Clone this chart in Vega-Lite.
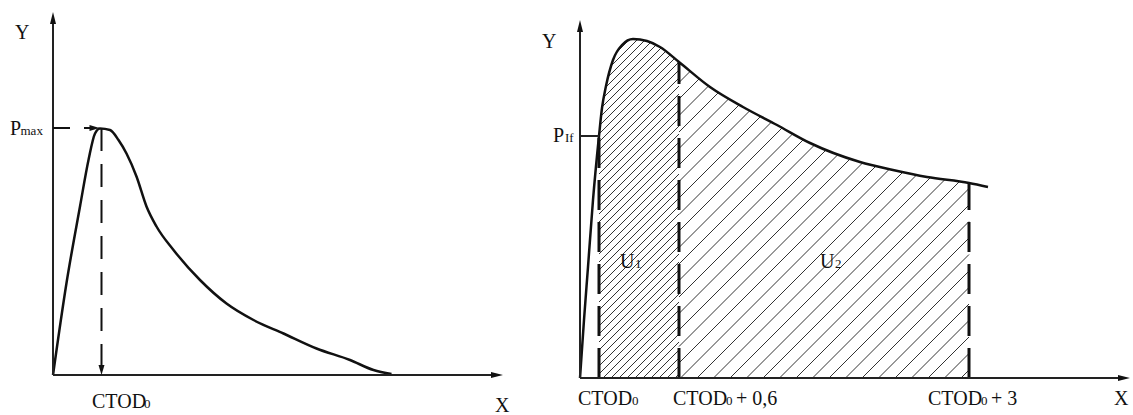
{
  "$schema": "https://vega.github.io/schema/vega-lite/v6.json",
  "autosize": {"type": "pad"},
  "padding": 0,
  "background": "white",
  "spacing": 0,
  "bounds": "flush",
  "config": {"view": {"stroke": null}},
  "datasets": {
    "curveL": [
      {"x":0,"y":0},{"x":0.27,"y":1.84},{"x":0.54,"y":3.37},{"x":0.71,"y":4.30},{"x":0.84,"y":4.83},
      {"x":0.94,"y":4.93},{"x":1.14,"y":4.90},{"x":1.31,"y":4.70},{"x":1.47,"y":4.43},{"x":1.67,"y":3.97},
      {"x":1.87,"y":3.37},{"x":2.07,"y":2.97},{"x":2.41,"y":2.50},{"x":2.94,"y":1.90},{"x":3.47,"y":1.43},
      {"x":4.01,"y":1.10},{"x":4.61,"y":0.83},{"x":5.27,"y":0.53},{"x":5.94,"y":0.30},{"x":6.41,"y":0.10},
      {"x":6.77,"y":0.02}
    ],
    "curveR": [
      {"x":0,"y":0},{"x":0.08,"y":1.16},{"x":0.16,"y":2.22},{"x":0.26,"y":3.56},{"x":0.38,"y":4.84},
      {"x":0.44,"y":5.40},{"x":0.52,"y":5.84},{"x":0.66,"y":6.36},{"x":0.84,"y":6.66},{"x":1.06,"y":6.78},
      {"x":1.34,"y":6.74},{"x":1.60,"y":6.62},{"x":1.98,"y":6.32},{"x":2.60,"y":5.82},{"x":3.26,"y":5.42},
      {"x":3.94,"y":5.06},{"x":4.60,"y":4.70},{"x":5.60,"y":4.32},{"x":6.26,"y":4.16},{"x":6.94,"y":4.02},
      {"x":7.78,"y":3.90},{"x":8.16,"y":3.82}
    ],
    "hatch": [
      {"x":1.90,"y":0,"x2":1.98,"y2":0.08},{"x":1.74,"y":0,"x2":1.98,"y2":0.24},{"x":1.58,"y":0,"x2":1.98,"y2":0.40},
      {"x":1.42,"y":0,"x2":1.98,"y2":0.56},{"x":1.26,"y":0,"x2":1.98,"y2":0.72},{"x":1.10,"y":0,"x2":1.98,"y2":0.88},
      {"x":0.94,"y":0,"x2":1.98,"y2":1.04},{"x":0.78,"y":0,"x2":1.98,"y2":1.20},{"x":0.62,"y":0,"x2":1.98,"y2":1.36},
      {"x":0.46,"y":0,"x2":1.98,"y2":1.52},{"x":0.38,"y":0.08,"x2":1.98,"y2":1.68},{"x":0.38,"y":0.24,"x2":1.98,"y2":1.84},
      {"x":0.38,"y":0.40,"x2":1.98,"y2":2.00},{"x":0.38,"y":0.56,"x2":1.98,"y2":2.16},{"x":0.38,"y":0.72,"x2":1.98,"y2":2.32},
      {"x":0.38,"y":0.88,"x2":1.98,"y2":2.48},{"x":0.38,"y":1.04,"x2":1.98,"y2":2.64},{"x":0.38,"y":1.20,"x2":1.98,"y2":2.80},
      {"x":0.38,"y":1.36,"x2":1.98,"y2":2.96},{"x":0.38,"y":1.52,"x2":1.98,"y2":3.12},{"x":0.38,"y":1.68,"x2":1.98,"y2":3.28},
      {"x":0.38,"y":1.84,"x2":1.98,"y2":3.44},{"x":0.38,"y":2.00,"x2":1.98,"y2":3.60},{"x":0.38,"y":2.16,"x2":1.98,"y2":3.76},
      {"x":0.38,"y":2.32,"x2":1.98,"y2":3.92},{"x":0.38,"y":2.48,"x2":1.98,"y2":4.08},{"x":0.38,"y":2.64,"x2":1.98,"y2":4.24},
      {"x":0.38,"y":2.80,"x2":1.98,"y2":4.40},{"x":0.38,"y":2.96,"x2":1.98,"y2":4.56},{"x":0.38,"y":3.12,"x2":1.98,"y2":4.72},
      {"x":0.38,"y":3.28,"x2":1.98,"y2":4.88},{"x":0.38,"y":3.44,"x2":1.98,"y2":5.04},{"x":0.38,"y":3.60,"x2":1.98,"y2":5.20},
      {"x":0.38,"y":3.76,"x2":1.98,"y2":5.36},{"x":0.38,"y":3.92,"x2":1.98,"y2":5.52},{"x":0.38,"y":4.08,"x2":1.98,"y2":5.68},
      {"x":0.38,"y":4.24,"x2":1.98,"y2":5.84},{"x":0.38,"y":4.40,"x2":1.98,"y2":6.00},{"x":0.38,"y":4.56,"x2":1.98,"y2":6.16},
      {"x":0.38,"y":4.72,"x2":1.98,"y2":6.32},{"x":0.38,"y":4.88,"x2":1.98,"y2":6.48},{"x":0.38,"y":5.04,"x2":1.98,"y2":6.64},
      {"x":0.38,"y":5.20,"x2":1.98,"y2":6.80},{"x":0.38,"y":5.36,"x2":1.88,"y2":6.86},{"x":0.38,"y":5.52,"x2":1.72,"y2":6.86},
      {"x":0.38,"y":5.68,"x2":1.56,"y2":6.86},{"x":0.38,"y":5.84,"x2":1.40,"y2":6.86},{"x":0.38,"y":6.00,"x2":1.24,"y2":6.86},
      {"x":0.38,"y":6.16,"x2":1.08,"y2":6.86},
      {"x":7.62,"y":0,"x2":7.78,"y2":0.16},{"x":7.29,"y":0,"x2":7.78,"y2":0.49},{"x":6.96,"y":0,"x2":7.78,"y2":0.82},
      {"x":6.63,"y":0,"x2":7.78,"y2":1.15},{"x":6.30,"y":0,"x2":7.78,"y2":1.48},{"x":5.97,"y":0,"x2":7.78,"y2":1.81},
      {"x":5.64,"y":0,"x2":7.78,"y2":2.14},{"x":5.31,"y":0,"x2":7.78,"y2":2.47},{"x":4.98,"y":0,"x2":7.78,"y2":2.80},
      {"x":4.65,"y":0,"x2":7.78,"y2":3.13},{"x":4.32,"y":0,"x2":7.78,"y2":3.46},{"x":3.99,"y":0,"x2":7.78,"y2":3.79},
      {"x":3.66,"y":0,"x2":7.78,"y2":4.12},{"x":3.33,"y":0,"x2":7.78,"y2":4.45},{"x":3.00,"y":0,"x2":7.78,"y2":4.78},
      {"x":2.67,"y":0,"x2":7.78,"y2":5.11},{"x":2.34,"y":0,"x2":7.78,"y2":5.44},{"x":2.01,"y":0,"x2":7.78,"y2":5.77},
      {"x":1.98,"y":0.30,"x2":7.78,"y2":6.10},{"x":1.98,"y":0.63,"x2":7.75,"y2":6.40},{"x":1.98,"y":0.96,"x2":7.42,"y2":6.40},
      {"x":1.98,"y":1.29,"x2":7.09,"y2":6.40},{"x":1.98,"y":1.62,"x2":6.76,"y2":6.40},{"x":1.98,"y":1.95,"x2":6.43,"y2":6.40},
      {"x":1.98,"y":2.28,"x2":6.10,"y2":6.40},{"x":1.98,"y":2.61,"x2":5.77,"y2":6.40},{"x":1.98,"y":2.94,"x2":5.44,"y2":6.40},
      {"x":1.98,"y":3.27,"x2":5.11,"y2":6.40},{"x":1.98,"y":3.60,"x2":4.78,"y2":6.40},{"x":1.98,"y":3.93,"x2":4.45,"y2":6.40},
      {"x":1.98,"y":4.26,"x2":4.12,"y2":6.40},{"x":1.98,"y":4.59,"x2":3.79,"y2":6.40},{"x":1.98,"y":4.92,"x2":3.46,"y2":6.40},
      {"x":1.98,"y":5.25,"x2":3.13,"y2":6.40},{"x":1.98,"y":5.58,"x2":2.80,"y2":6.40},{"x":1.98,"y":5.91,"x2":2.47,"y2":6.40},
      {"x":1.98,"y":6.24,"x2":2.14,"y2":6.40}
    ]
  },
  "hconcat": [
    {
      "width": 520,
      "height": 415,
      "encoding": {
        "x": {"field": "x", "type": "quantitative", "scale": {"domain": [-1.06, 9.34], "nice": false, "zero": false}, "axis": null},
        "y": {"field": "y", "type": "quantitative", "scale": {"domain": [-0.8, 7.5], "nice": false, "zero": false}, "axis": null}
      },
      "layer": [
        {
          "data": {"name": "curveL"},
          "mark": {"type": "line", "interpolate": "monotone", "color": "#111", "strokeWidth": 2.5}
        },
        {
          "data": {"values": [{"x": 0, "y": 0, "x2": 8.9, "y2": 0}, {"x": 0, "y": 0, "x2": 0, "y2": 7.1}]},
          "mark": {"type": "rule", "color": "#222", "strokeWidth": 2},
          "encoding": {"x2": {"field": "x2"}, "y2": {"field": "y2"}}
        },
        {
          "data": {"values": [{"x": 0, "y": 4.94, "x2": 0.86, "y2": 4.94}]},
          "mark": {"type": "rule", "color": "#111", "strokeWidth": 2, "strokeDash": [17, 14]},
          "encoding": {"x2": {"field": "x2"}, "y2": {"field": "y2"}}
        },
        {
          "data": {"values": [{"x": 0.97, "y": 4.94, "x2": 0.97, "y2": 0.12}]},
          "mark": {"type": "rule", "color": "#111", "strokeWidth": 2, "strokeDash": [23, 13]},
          "encoding": {"x2": {"field": "x2"}, "y2": {"field": "y2"}}
        },
        {
          "data": {"values": [{"x": 0.93, "y": 4.94}]},
          "mark": {"type": "point", "shape": "M0,0L-2,-0.6L-2,0.6Z", "size": 100, "filled": true, "color": "#111", "opacity": 1}
        },
        {
          "data": {"values": [{"x": 0.97, "y": 0}]},
          "mark": {"type": "point", "shape": "M0,0L-0.6,-2L0.6,-2Z", "size": 100, "filled": true, "color": "#111", "opacity": 1}
        },
        {
          "data": {"values": [{"x": 0, "y": 7.26}]},
          "mark": {"type": "point", "shape": "M0,0L-0.5,2L0.5,2Z", "size": 144, "filled": true, "color": "#111", "opacity": 1}
        },
        {
          "data": {"values": [{"x": 9.0, "y": 0}]},
          "mark": {"type": "point", "shape": "M0,0L-2,-0.5L-2,0.5Z", "size": 144, "filled": true, "color": "#111", "opacity": 1}
        },
        {
          "data": {"values": [
            {"x": -0.76, "y": 6.72, "t": "Y"},
            {"x": -0.86, "y": 4.8, "t": "P"},
            {"x": 0.78, "y": -0.66, "t": "CTOD"},
            {"x": 8.84, "y": -0.74, "t": "X"}
          ]},
          "mark": {"type": "text", "align": "left", "baseline": "alphabetic", "fontSize": 20, "font": "Liberation Serif", "color": "#111"},
          "encoding": {"text": {"field": "t"}}
        },
        {
          "data": {"values": [
            {"x": -0.65, "y": 4.8, "t": "max"},
            {"x": 1.82, "y": -0.66, "t": "0"}
          ]},
          "mark": {"type": "text", "align": "left", "baseline": "alphabetic", "fontSize": 13, "font": "Liberation Serif", "color": "#111"},
          "encoding": {"text": {"field": "t"}}
        }
      ]
    },
    {
      "width": 613,
      "height": 415,
      "encoding": {
        "x": {"field": "x", "type": "quantitative", "scale": {"domain": [-1.2, 11.06], "nice": false, "zero": false}, "axis": null},
        "y": {"field": "y", "type": "quantitative", "scale": {"domain": [-0.74, 7.56], "nice": false, "zero": false}, "axis": null}
      },
      "layer": [
        {
          "data": {"name": "hatch"},
          "mark": {"type": "rule", "color": "#333", "strokeWidth": 1},
          "encoding": {"x2": {"field": "x2"}, "y2": {"field": "y2"}}
        },
        {
          "data": {"name": "curveR"},
          "transform": [{"filter": "datum.x >= 0.26"}],
          "mark": {"type": "area", "interpolate": "monotone", "color": "white", "opacity": 1},
          "encoding": {"y2": {"datum": 7.3}}
        },
        {
          "data": {"name": "curveR"},
          "mark": {"type": "line", "interpolate": "monotone", "color": "#111", "strokeWidth": 2.5}
        },
        {
          "data": {"values": [
            {"x": 0.38, "y": 0, "x2": 0.38, "y2": 4.84},
            {"x": 1.98, "y": 0, "x2": 1.98, "y2": 6.32},
            {"x": 7.78, "y": 0, "x2": 7.78, "y2": 3.9}
          ]},
          "mark": {"type": "rule", "color": "#111", "strokeWidth": 3, "strokeDash": [30, 12]},
          "encoding": {"x2": {"field": "x2"}, "y2": {"field": "y2"}}
        },
        {
          "data": {"values": [
            {"x": 0, "y": 0, "x2": 10.9, "y2": 0},
            {"x": 0, "y": 0, "x2": 0, "y2": 7.0},
            {"x": 0, "y": 4.84, "x2": 0.38, "y2": 4.84}
          ]},
          "mark": {"type": "rule", "color": "#222", "strokeWidth": 2},
          "encoding": {"x2": {"field": "x2"}, "y2": {"field": "y2"}}
        },
        {
          "data": {"values": [{"x": 0, "y": 7.16}]},
          "mark": {"type": "point", "shape": "M0,0L-0.5,2L0.5,2Z", "size": 144, "filled": true, "color": "#111", "opacity": 1}
        },
        {
          "data": {"values": [{"x": 11.0, "y": 0}]},
          "mark": {"type": "point", "shape": "M0,0L-2,-0.5L-2,0.5Z", "size": 144, "filled": true, "color": "#111", "opacity": 1}
        },
        {
          "data": {"values": [
            {"x": -0.76, "y": 6.6, "t": "Y"},
            {"x": -0.54, "y": 4.72, "t": "P"},
            {"x": 0.8, "y": 2.2, "t": "U"},
            {"x": 4.8, "y": 2.2, "t": "U"},
            {"x": -0.04, "y": -0.54, "t": "CTOD"},
            {"x": 1.86, "y": -0.54, "t": "CTOD"},
            {"x": 3.12, "y": -0.54, "t": "+ 0,6"},
            {"x": 6.96, "y": -0.54, "t": "CTOD"},
            {"x": 8.22, "y": -0.54, "t": "+ 3"},
            {"x": 10.68, "y": -0.54, "t": "X"}
          ]},
          "mark": {"type": "text", "align": "left", "baseline": "alphabetic", "fontSize": 20, "font": "Liberation Serif", "color": "#111"},
          "encoding": {"text": {"field": "t"}}
        },
        {
          "data": {"values": [
            {"x": -0.3, "y": 4.72, "t": "If"},
            {"x": 1.1, "y": 2.2, "t": "1"},
            {"x": 5.1, "y": 2.2, "t": "2"},
            {"x": 1.04, "y": -0.54, "t": "0"},
            {"x": 2.92, "y": -0.54, "t": "0"},
            {"x": 8.02, "y": -0.54, "t": "0"}
          ]},
          "mark": {"type": "text", "align": "left", "baseline": "alphabetic", "fontSize": 13, "font": "Liberation Serif", "color": "#111"},
          "encoding": {"text": {"field": "t"}}
        }
      ]
    }
  ]
}
